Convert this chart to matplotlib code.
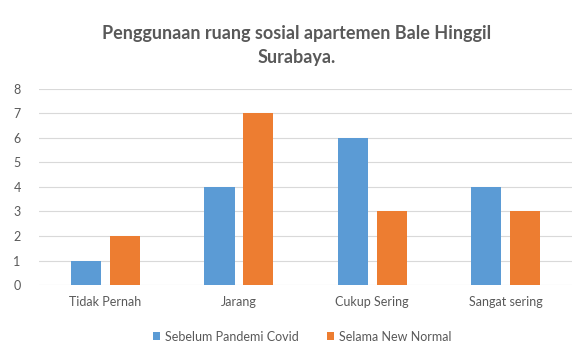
import numpy as np
import matplotlib
matplotlib.use('Agg')
import matplotlib.pyplot as plt

plt.rcParams['font.family'] = ['Lato', 'DejaVu Sans']

# data
categories = ['Tidak Pernah', 'Jarang', 'Cukup Sering', 'Sangat sering']
sebelum = [1, 4, 6, 4]
selama = [2, 7, 3, 3]
series_names = ['Sebelum Pandemi Covid', 'Selama New Normal']

blue = '#5B9BD5'
orange = '#ED7D31'
text_gray = '#595959'

fig = plt.figure(figsize=(5.87, 3.43), dpi=100)
ax = fig.add_axes([0.066, 0.169, 0.909, 0.572])

x = np.arange(len(categories))
w = 0.225
ax.bar(x - 0.145, sebelum, w, color=blue, label=series_names[0], zorder=3)
ax.bar(x + 0.145, selama, w, color=orange, label=series_names[1], zorder=3)

ax.set_xlim(-0.5, len(categories) - 0.5)
ax.set_ylim(0, 8)
ax.set_yticks(range(0, 9))
ax.set_xticks(x)
ax.set_xticklabels(categories)
ax.tick_params(axis='both', length=0, labelsize=9, colors=text_gray)
ax.tick_params(axis='x', pad=8)
ax.tick_params(axis='y', pad=13)
ax.grid(axis='y', color='#D9D9D9', linewidth=0.8, zorder=0)
for s in ax.spines.values():
    s.set_visible(False)

# title, two lines, centred
fig.text(0.505, 0.868, 'Penggunaan ruang sosial apartemen Bale Hinggil\nSurabaya.',
         ha='center', va='center', fontsize=13, fontweight='bold',
         color=text_gray, linespacing=1.5)

fig.legend(loc='center', bbox_to_anchor=(0.515, 0.018), ncol=2, frameon=False,
           fontsize=9, labelcolor=text_gray, handlelength=0.6, handleheight=0.6,
           columnspacing=2.2, handletextpad=0.4)

plt.savefig('out.png', dpi=100)
